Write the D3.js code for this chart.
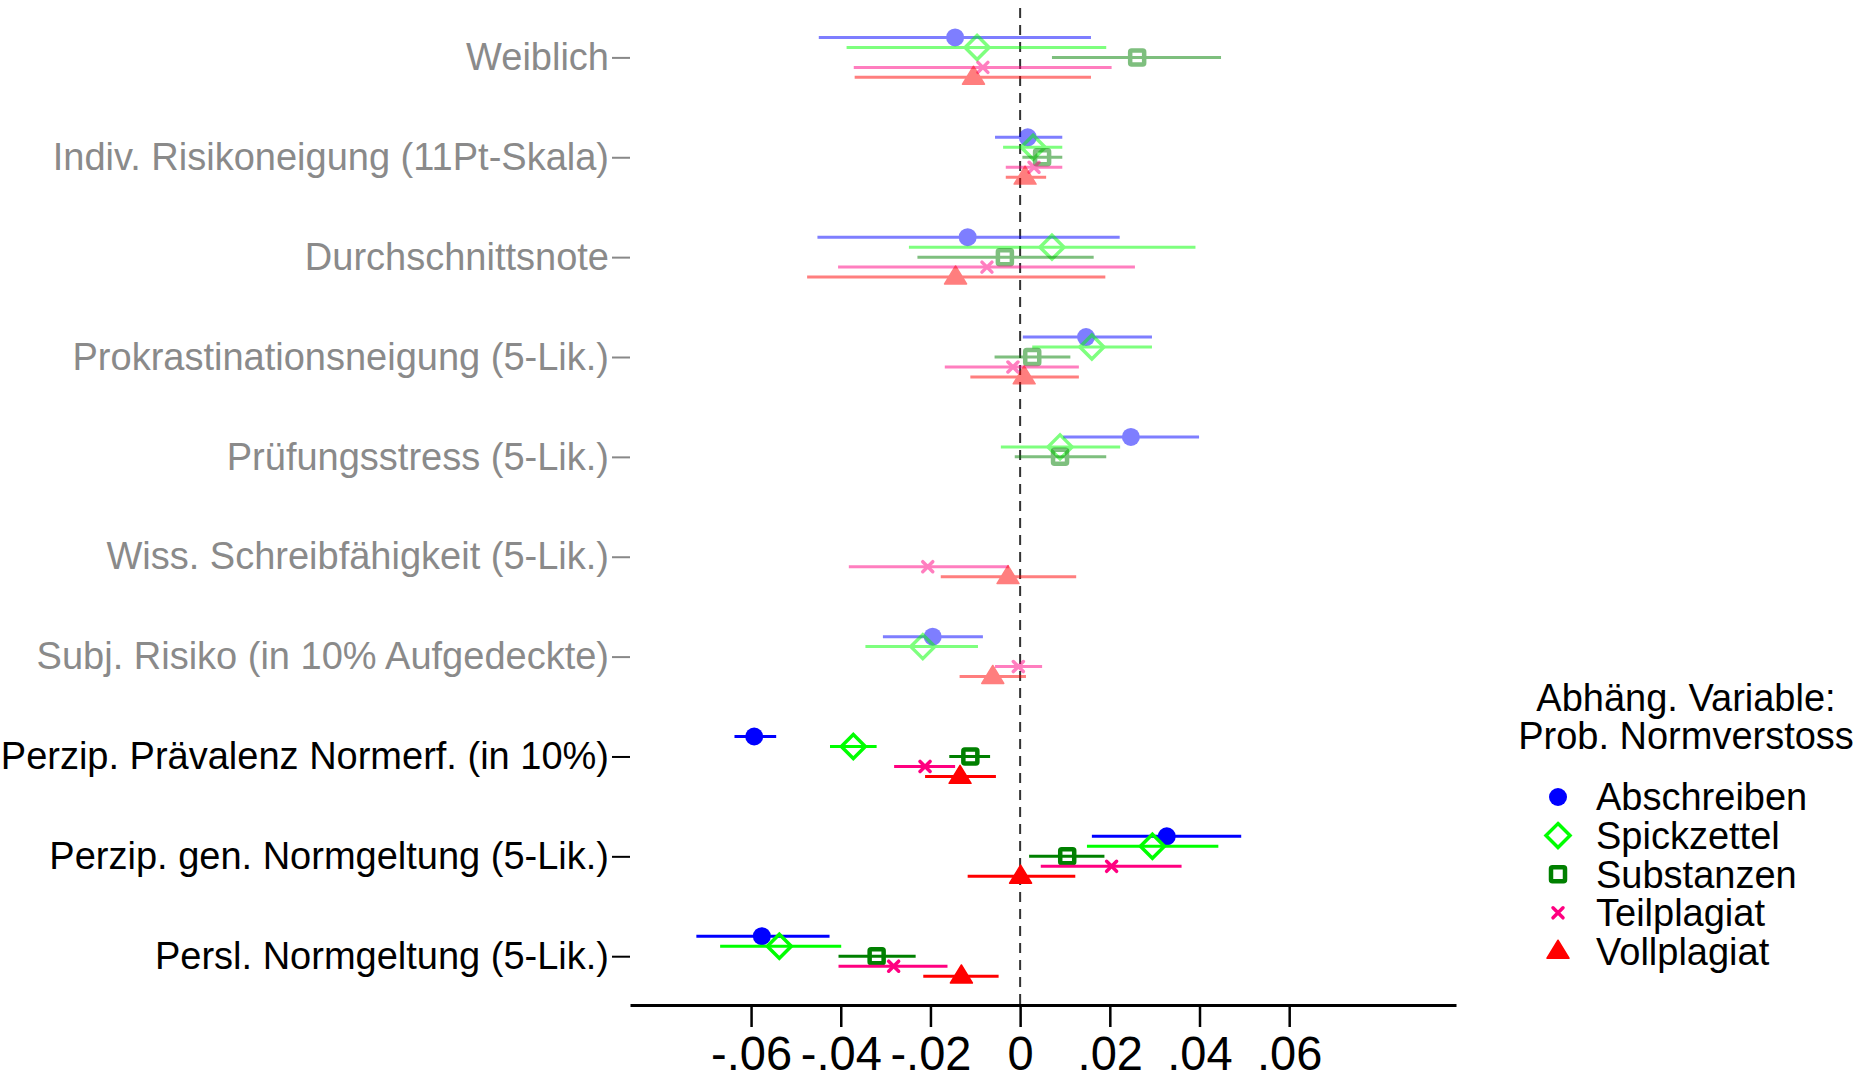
<!DOCTYPE html>
<html><head><meta charset="utf-8">
<script src="https://cdn.jsdelivr.net/npm/d3@7"></script>
<style>
html,body{margin:0;padding:0;background:#fff;}
svg{display:block;font-family:"Liberation Sans",Arial,sans-serif;}
</style></head>
<body><svg id="chart" width="1874" height="1080"></svg>
<script>
// ---- data ----
const categories = [
  "Weiblich",
  "Indiv. Risikoneigung (11Pt-Skala)",
  "Durchschnittsnote",
  "Prokrastinationsneigung (5-Lik.)",
  "Prüfungsstress (5-Lik.)",
  "Wiss. Schreibfähigkeit (5-Lik.)",
  "Subj. Risiko (in 10% Aufgedeckte)",
  "Perzip. Prävalenz Normerf. (in 10%)",
  "Perzip. gen. Normgeltung (5-Lik.)",
  "Persl. Normgeltung (5-Lik.)"
];
const highlighted = [false,false,false,false,false,false,false,true,true,true];
const seriesNames = ["Abschreiben","Spickzettel","Substanzen","Teilplagiat","Vollplagiat"];
const seriesColors = ["#0000ff","#00ff00","#008000","#ff0080","#ff0000"];
const seriesShapes = ["circle","diamond","square","cross","triangle"];

const abschreibenEst = [-0.0145, 0.0017, -0.0117, 0.0147, 0.0247, null, -0.0195, -0.0593, 0.0327, -0.0576];
const abschreibenLo  = [-0.0449, -0.0056, -0.0452, 0.0006, 0.0096, null, -0.0306, -0.0637, 0.0160, -0.0722];
const abschreibenHi  = [ 0.0158, 0.0094, 0.0222, 0.0294, 0.0399, null, -0.0083, -0.0544, 0.0493, -0.0425];

const spickzettelEst = [-0.0096, 0.0029, 0.0071, 0.0160, 0.0089, null, -0.0217, -0.0372, 0.0295, -0.0537];
const spickzettelLo  = [-0.0387, -0.0038, -0.0248, 0.0027, -0.0043, null, -0.0345, -0.0424, 0.0149, -0.0669];
const spickzettelHi  = [ 0.0192, 0.0094, 0.0391, 0.0294, 0.0223, null, -0.0094, -0.0320, 0.0442, -0.0399];

const substanzenEst = [0.0261, 0.0049, -0.0034, 0.0027, 0.0089, null, null, -0.0111, 0.0105, -0.0320];
const substanzenLo  = [0.0071, 0.0005, -0.0229, -0.0057, -0.0012, null, null, -0.0158, 0.0020, -0.0405];
const substanzenHi  = [0.0448, 0.0094, 0.0164, 0.0112, 0.0192, null, null, -0.0067, 0.0188, -0.0233];

const teilplagiatEst = [-0.0083, 0.0031, -0.0074, -0.0016, null, -0.0206, -0.0004, -0.0212, 0.0204, -0.0282];
const teilplagiatLo  = [-0.0371, -0.0032, -0.0406, -0.0168, null, -0.0382, -0.0056, -0.0281, 0.0046, -0.0405];
const teilplagiatHi  = [ 0.0204, 0.0094, 0.0256, 0.0131, null, -0.0025, 0.0049, -0.0145, 0.0360, -0.0162];

const vollplagiatEst = [-0.0104, 0.0011, -0.0144, 0.0009, null, -0.0027, -0.0061, -0.0134, 0.0001, -0.0131];
const vollplagiatLo  = [-0.0369, -0.0032, -0.0475, -0.0111, null, -0.0177, -0.0135, -0.0212, -0.0117, -0.0216];
const vollplagiatHi  = [ 0.0158, 0.0058, 0.0190, 0.0131, null, 0.0125, 0.0013, -0.0054, 0.0123, -0.0048];

const xTickValues = [-0.06,-0.04,-0.02,0,0.02,0.04,0.06];
const xTickLabels = ["-.06","-.04","-.02","0",".02",".04",".06"];
const legendTitle = ["Abhäng. Variable:","Prob. Normverstoss"];

const estimates = [abschreibenEst, spickzettelEst, substanzenEst, teilplagiatEst, vollplagiatEst];
const lows = [abschreibenLo, spickzettelLo, substanzenLo, teilplagiatLo, vollplagiatLo];
const highs = [abschreibenHi, spickzettelHi, substanzenHi, teilplagiatHi, vollplagiatHi];

// ---- layout ----
const svg = d3.select("#chart");
const x = d3.scaleLinear().domain([-0.087, 0.0972]).range([630, 1456]);
const y = d3.scaleLinear().domain([0, 9]).range([57.4, 956.2]);
const offsets = [-0.2, -0.1, 0, 0.1, 0.2];
const axisY = 1005;
const fadeOpacity = 0.5;

// zero reference line
svg.append("line")
  .attr("x1", x(0)).attr("x2", x(0))
  .attr("y1", 8).attr("y2", axisY)
  .attr("stroke", "#333").attr("stroke-width", 2)
  .attr("stroke-dasharray", "10,7");

// x axis
const xAxis = d3.axisBottom(x).tickValues(xTickValues)
  .tickFormat((d,i) => xTickLabels[i]).tickSize(22).tickSizeOuter(0).tickPadding(0);
const gx = svg.append("g").attr("transform", `translate(0,${axisY})`).call(xAxis);
gx.select(".domain").attr("stroke", "#000").attr("stroke-width", 3);
gx.selectAll(".tick line").attr("stroke", "#000").attr("stroke-width", 2.5);
gx.selectAll(".tick text").attr("font-size", 48).attr("fill", "#000")
  .attr("y", 0).attr("dy", 0)
  .attr("font-family", "Liberation Sans, Arial, sans-serif")
  .attr("transform", "translate(0,65) scale(0.98,1)");

// y axis (ticks + labels only)
const yAxis = d3.axisLeft(y).tickValues(d3.range(categories.length))
  .tickFormat(i => categories[i]).tickSize(18).tickPadding(3);
const gy = svg.append("g").attr("transform", "translate(630,0)").call(yAxis);
gy.select(".domain").remove();
gy.selectAll(".tick line").attr("stroke", (d) => highlighted[d] ? "#000" : "#888").attr("stroke-width", 2);
gy.selectAll(".tick text").attr("font-size", 38)
  .attr("font-family", "Liberation Sans, Arial, sans-serif")
  .attr("fill", (d) => highlighted[d] ? "#000" : "#8a8a8a");

// marker drawing
function drawMarker(g, shape, color, cx, cy) {
  if (shape === "circle") {
    g.append("circle").attr("cx", cx).attr("cy", cy).attr("r", 9).attr("fill", color);
  } else if (shape === "diamond") {
    const r = 12;
    g.append("path").attr("d", `M${cx},${cy-r}L${cx+r},${cy}L${cx},${cy+r}L${cx-r},${cy}Z`)
      .attr("fill", "none").attr("stroke", color).attr("stroke-width", 3.5).attr("stroke-linejoin", "miter");
  } else if (shape === "square") {
    const s = 14;
    g.append("rect").attr("x", cx - s/2).attr("y", cy - s/2).attr("width", s).attr("height", s)
      .attr("fill", "none").attr("stroke", color).attr("stroke-width", 4.5).attr("rx", 1.5);
  } else if (shape === "cross") {
    const r = 5;
    g.append("path").attr("d", `M${cx-r},${cy-r}L${cx+r},${cy+r}M${cx-r},${cy+r}L${cx+r},${cy-r}`)
      .attr("stroke", color).attr("stroke-width", 3.5).attr("stroke-linecap", "round");
  } else if (shape === "triangle") {
    const w = 11, h = 18;
    g.append("path").attr("d", `M${cx},${cy-h*0.62}L${cx+w},${cy+h*0.38}L${cx-w},${cy+h*0.38}Z`)
      .attr("fill", color).attr("stroke", color).attr("stroke-width", 1.5).attr("stroke-linejoin", "round");
  }
}

// plot series
const plot = svg.append("g");
seriesNames.forEach((name, s) => {
  const rows = categories.map((c, i) => ({i, est: estimates[s][i], lo: lows[s][i], hi: highs[s][i]}))
    .filter(d => d.est !== null);
  const g = plot.append("g").attr("class", "series-" + name);
  rows.forEach(d => {
    const py = y(d.i + offsets[s]);
    const gg = g.append("g").attr("opacity", highlighted[d.i] ? 1 : fadeOpacity);
    gg.append("line")
      .attr("x1", x(d.lo)).attr("x2", x(d.hi))
      .attr("y1", py).attr("y2", py)
      .attr("stroke", seriesColors[s]).attr("stroke-width", 3);
    drawMarker(gg, seriesShapes[s], seriesColors[s], x(d.est), py);
  });
});

// legend
const lg = svg.append("g");
legendTitle.forEach((t, i) => {
  lg.append("text").attr("x", 1686).attr("y", 711 + i * 38)
    .attr("text-anchor", "middle").attr("font-size", 38).attr("fill", "#000").text(t);
});
seriesNames.forEach((name, s) => {
  const cy = 797 + s * 38.6;
  drawMarker(lg, seriesShapes[s], seriesColors[s], 1558, cy);
  lg.append("text").attr("x", 1596).attr("y", cy).attr("dy", "0.35em")
    .attr("font-size", 38).attr("fill", "#000").text(name);
});
</script>
</body></html>
